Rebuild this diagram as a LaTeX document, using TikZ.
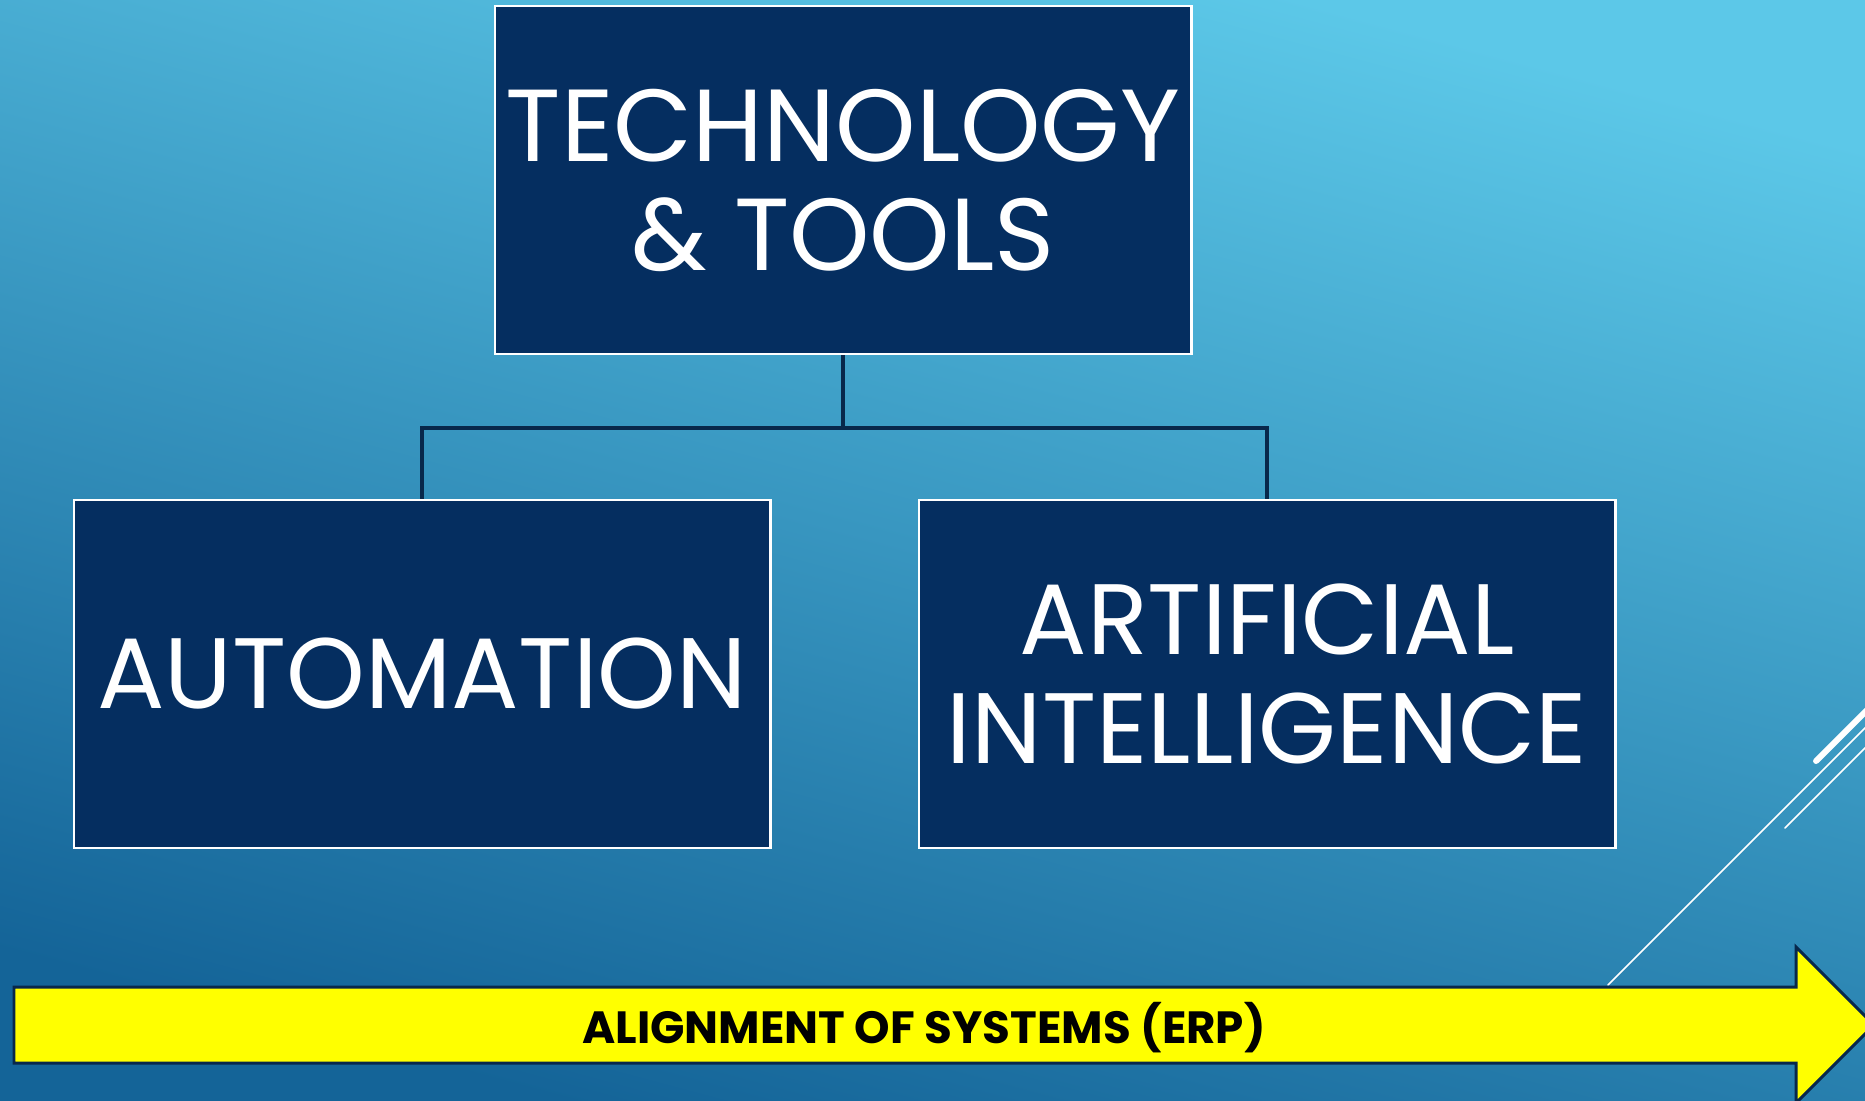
\documentclass[tikz,border=0pt]{standalone}
\usepackage{fontspec}
\setmainfont{Poppins}
\usetikzlibrary{positioning,calc}
\definecolor{bgtop}{RGB}{92,200,232}
\definecolor{bgbot}{RGB}{20,100,152}
\definecolor{navy}{RGB}{5,46,96}
\definecolor{linknavy}{RGB}{8,40,75}
\definecolor{erpyellow}{RGB}{255,255,0}
\tikzset{
  box/.style={rectangle,draw=white,line width=1.2pt,fill=navy,text=white,
    minimum width=13.94cm,minimum height=6.96cm,align=center,inner sep=0pt,
    font=\fontsize{57}{62}\selectfont},
  link/.style={draw=linknavy,line width=1.9pt},
  deco/.style={draw=white,line cap=round},
  erpbar/.style={fill=erpyellow,draw=linknavy,line width=1.7pt,line join=miter}
}
\begin{document}
\begin{tikzpicture}[x=0.02cm,y=-0.02cm]
  \clip (0,0) rectangle (1865,1100);
  \shade[top color=bgtop,bottom color=bgbot,shading angle=-15] (0,0) rectangle (1865,1100);

  % slide decoration
  \draw[deco,line width=3.4pt] (1816,761) -- (1885,692);
  \draw[deco,line width=0.9pt] (1608,985) -- (1885,708);
  \draw[deco,line width=0.9pt] (1785,828) -- (1885,728);

  \node[box,font=\fontsize{58.3}{62}\selectfont] (tech) at (843,180) {TECHNOLOGY\\\& TOOLS};
  \node[box,below=2.88cm of tech,xshift=-8.42cm] (auto) {AUTOMATION};
  \node[box,right=2.92cm of auto] (ai) {ARTIFICIAL\\INTELLIGENCE};

  \coordinate (fork) at ($(tech.south)+(0,-1.46cm)$);
  \draw[link] (tech.south) -- (fork) -| (auto.north);
  \draw[link] (fork) -| (ai.north);

  % erp arrow
  \draw[erpbar] (14,987) -- (1796,987) -- (1796,947) -- (1874,1025)
    -- (1796,1103) -- (1796,1063) -- (14,1063) -- cycle;
  \node[font=\bfseries\fontsize{25.7}{30}\selectfont] (erp) at (924,1028) {ALIGNMENT OF SYSTEMS (ERP)};
\end{tikzpicture}
\end{document}
